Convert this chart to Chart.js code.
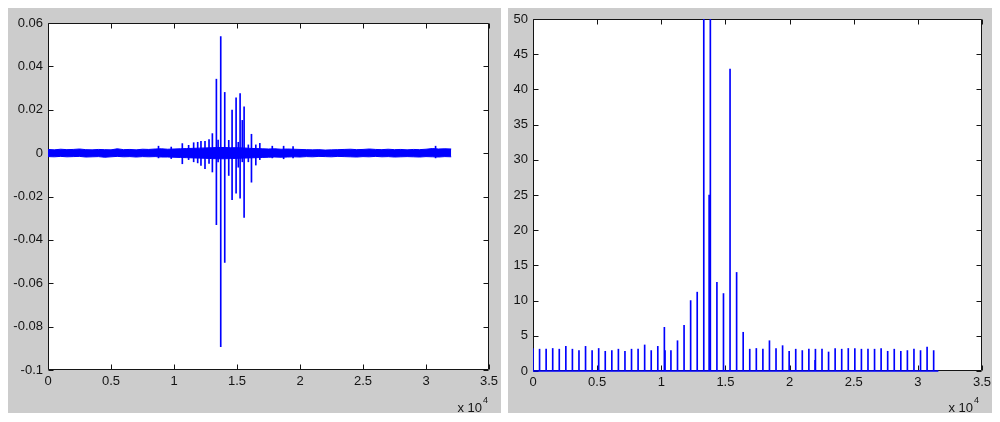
<!DOCTYPE html>
<html>
<head>
<meta charset="utf-8">
<title>Signal and spectrum</title>
<script src="https://cdn.jsdelivr.net/npm/chart.js@4.4.1/dist/chart.umd.min.js"></script>
<style>
  html, body { margin: 0; padding: 0; background: #fff; }
  body { width: 1000px; height: 422px; position: relative; overflow: hidden; }
  .panel { position: absolute; top: 8px; height: 405px; background: #cccccc; }
  #leftPanel  { left: 8px;   width: 493px; }
  #rightPanel { left: 508px; width: 484px; }
  canvas { display: block; }
</style>
</head>
<body>
<div class="panel" id="leftPanel"><canvas id="signalChart"></canvas></div>
<div class="panel" id="rightPanel"><canvas id="spectrumChart"></canvas></div>
<script>
// ===== data =====

// Left: noise band envelope, sampled every 500 samples
const envX = [0, 500, 1000, 1500, 2000, 2500, 3000, 3500, 4000, 4500,
  5000, 5500, 6000, 6500, 7000, 7500, 8000, 8500, 9000, 9500,
  10000, 10500, 11000, 11500, 12000, 12500, 13000, 13500, 14000, 14500,
  15000, 15500, 16000, 16500, 17000, 17500, 18000, 18500, 19000, 19500,
  20000, 20500, 21000, 21500, 22000, 22500, 23000, 23500, 24000, 24500,
  25000, 25500, 26000, 26500, 27000, 27500, 28000, 28500, 29000, 29500,
  30000, 30500, 31000, 31500, 32000];
const envUpper = [0.0017, 0.0015, 0.0018, 0.0016, 0.0017, 0.0019, 0.0016, 0.0015, 0.0017, 0.0016,
  0.0015, 0.0020, 0.0016, 0.0017, 0.0015, 0.0018, 0.0017, 0.0019, 0.0020, 0.0018,
  0.0019, 0.0020, 0.0021, 0.0022, 0.0023, 0.0024, 0.0025, 0.0026, 0.0026, 0.0025,
  0.0025, 0.0024, 0.0022, 0.0021, 0.0020, 0.0019, 0.0020, 0.0018, 0.0019, 0.0018,
  0.0017, 0.0016, 0.0015, 0.0016, 0.0014, 0.0015, 0.0016, 0.0017, 0.0018, 0.0016,
  0.0017, 0.0019, 0.0017, 0.0016, 0.0018, 0.0016, 0.0017, 0.0015, 0.0017, 0.0016,
  0.0018, 0.0021, 0.0019, 0.0020, 0.0019];
const envLower = [-0.0016, -0.0017, -0.0015, -0.0017, -0.0016, -0.0015, -0.0018, -0.0017, -0.0016, -0.0019,
  -0.0017, -0.0015, -0.0017, -0.0016, -0.0018, -0.0016, -0.0017, -0.0016, -0.0018, -0.0018,
  -0.0019, -0.0020, -0.0021, -0.0022, -0.0023, -0.0024, -0.0025, -0.0026, -0.0026, -0.0025,
  -0.0024, -0.0023, -0.0022, -0.0021, -0.0020, -0.0019, -0.0018, -0.0019, -0.0018, -0.0017,
  -0.0018, -0.0016, -0.0017, -0.0015, -0.0016, -0.0017, -0.0015, -0.0016, -0.0017, -0.0018,
  -0.0016, -0.0017, -0.0015, -0.0017, -0.0016, -0.0018, -0.0017, -0.0016, -0.0017, -0.0018,
  -0.0016, -0.0017, -0.0018, -0.0016, -0.0017];

// Left: individual spikes (peak up / peak down)
const burstX  = [8770, 9780, 10660, 11160, 11560, 11880, 12140, 12460, 12780, 13045,
  13364, 13500, 13709, 14027, 14345, 14610, 14928, 15100, 15246, 15420,
  15564, 15900, 16148, 16493, 16811, 17800, 18700, 19450, 30760];
const burstHi = [0.0032, 0.0028, 0.0044, 0.0036, 0.0048, 0.0050, 0.0054, 0.0054, 0.0063, 0.0090,
  0.0341, 0.0060, 0.0537, 0.0280, 0.0059, 0.0198, 0.0255, 0.0050, 0.0275, 0.0151,
  0.0213, 0.0038, 0.0087, 0.0038, 0.0045, 0.0032, 0.0032, 0.0030, 0.0032];
const burstLo = [-0.0022, -0.0025, -0.0049, -0.0030, -0.0040, -0.0045, -0.0057, -0.0072, -0.0048, -0.0087,
  -0.0330, -0.0040, -0.0892, -0.0504, -0.0103, -0.0215, -0.0185, -0.0065, -0.0208, -0.0040,
  -0.0296, -0.0040, -0.0134, -0.0055, -0.0030, -0.0022, -0.0026, -0.0022, -0.0022];

// Right: stems
const stemX = [0, 512, 1024, 1536, 2048, 2560, 3072, 3584, 4096, 4608,
  5120, 5632, 6144, 6656, 7168, 7680, 8192, 8704, 9216, 9728,
  10240, 10752, 11264, 11776, 12288, 12800, 13312, 13824, 14336, 14848,
  15360, 15872, 16384, 16896, 17408, 17920, 18432, 18944, 19456, 19968,
  20480, 20992, 21504, 22016, 22528, 23040, 23552, 24064, 24576, 25088,
  25600, 26112, 26624, 27136, 27648, 28160, 28672, 29184, 29696, 30208,
  30720, 31232];
const stemY = [3.2, 3.1, 3.1, 3.2, 3.1, 3.5, 3.1, 2.9, 3.5, 2.9,
  3.2, 2.8, 2.9, 3.1, 2.8, 3.1, 3.1, 3.7, 2.9, 3.5,
  6.2, 2.9, 4.3, 6.5, 10.0, 11.2, 60, 60, 12.6, 11.0,
  42.9, 14.0, 5.5, 3.1, 3.2, 3.1, 4.3, 3.2, 3.6, 2.8,
  3.1, 2.9, 3.1, 3.1, 3.1, 2.7, 3.2, 3.1, 3.2, 3.2,
  3.1, 3.1, 3.1, 3.2, 2.8, 3.1, 2.8, 2.9, 3.1, 2.9,
  3.4, 2.9];
const extraStemX = [10290, 13730, 21990];
const extraStemY = [2.9, 25.0, 1.5];
const baselineX  = [0, 31600];

// Tick labels
const xTickLabels        = ['0', '0.5', '1', '1.5', '2', '2.5', '3', '3.5'];
const signalTickLabels   = ['-0.1', '-0.08', '-0.06', '-0.04', '-0.02', '0', '0.02', '0.04', '0.06'];
const spectrumTickLabels = ['0', '5', '10', '15', '20', '25', '30', '35', '40', '45', '50'];

// ===== styling =====
const BLUE = '#0000ff';
const INK  = '#141414';
const FONT = "'Liberation Sans', Arial, Helvetica, sans-serif";

// ---- MATLAB-ish axes: white plot box, inward ticks, "x 10^4" exponent ----
const matlabAxes = {
  id: 'matlabAxes',
  beforeDraw(chart) {
    const { ctx, chartArea: a } = chart;
    ctx.save();
    ctx.fillStyle = '#ffffff';
    ctx.fillRect(a.left, a.top, a.right - a.left, a.bottom - a.top);
    ctx.restore();
  },
  beforeDatasetsDraw(chart) {
    const { ctx, chartArea: a, scales: { x, y } } = chart;
    const L = Math.round(a.left) + 0.5, R = Math.round(a.right) - 0.5;
    const T = Math.round(a.top) + 0.5,  B = Math.round(a.bottom) - 0.5;
    ctx.save();
    ctx.strokeStyle = INK;
    ctx.lineWidth = 1;
    ctx.beginPath();
    ctx.rect(L, T, R - L, B - T);
    for (const t of x.ticks) {
      const px = Math.round(x.getPixelForValue(t.value)) + 0.5;
      ctx.moveTo(px, B); ctx.lineTo(px, B - 5);
      ctx.moveTo(px, T); ctx.lineTo(px, T + 5);
    }
    for (const t of y.ticks) {
      const py = Math.round(y.getPixelForValue(t.value)) + 0.5;
      ctx.moveTo(L, py); ctx.lineTo(L + 5, py);
      ctx.moveTo(R, py); ctx.lineTo(R - 5, py);
    }
    ctx.stroke();
    ctx.restore();
  },
  afterDraw(chart, args, opts) {
    const { ctx, chartArea: a } = chart;
    const xr = a.right - opts.offset;
    ctx.save();
    ctx.fillStyle = INK;
    ctx.textBaseline = 'alphabetic';
    ctx.font = `13px ${FONT}`;
    ctx.textAlign = 'right';
    ctx.fillText('x 10', xr, chart.height - 1.5);
    ctx.font = `9px ${FONT}`;
    ctx.textAlign = 'left';
    ctx.fillText('4', xr + 1, chart.height - 10.5);
    ctx.restore();
  },
};

function fixed(prop, size) {
  return scale => {
    scale[prop] = size;
    scale.paddingTop = scale.paddingBottom = scale.paddingLeft = scale.paddingRight = 0;
  };
}

function xAxis(height) {
  return {
    type: 'linear',
    min: 0, max: 35000,
    offset: false,
    grid: { display: false, drawTicks: false },
    border: { display: false },
    ticks: {
      stepSize: 5000,
      padding: 4,
      maxRotation: 0,
      autoSkip: false,
      color: INK,
      font: { family: FONT, size: 13 },
      callback: (v, i) => xTickLabels[i] ?? String(v / 10000),
    },
    afterFit: fixed('height', height),
  };
}

function yAxis(min, max, step, labels, width) {
  return {
    min, max,
    grid: { display: false, drawTicks: false },
    border: { display: false },
    ticks: {
      stepSize: step,
      padding: 5,
      autoSkip: false,
      color: INK,
      font: { family: FONT, size: 13 },
      callback: (v, i) => labels[i] ?? String(v),
    },
    afterFit: fixed('width', width),
  };
}

const common = {
  responsive: true,
  maintainAspectRatio: false,
  animation: false,
  events: [],
};

// ---- Left: time signal ----
new Chart(document.getElementById('signalChart'), {
  type: 'bar',
  data: {
    datasets: [
      {
        type: 'line',
        data: envX.map((x, i) => ({ x, y: envUpper[i] })),
        borderColor: BLUE, borderWidth: 1, pointRadius: 0, tension: 0, fill: false,
      },
      {
        type: 'line',
        data: envX.map((x, i) => ({ x, y: envLower[i] })),
        borderColor: BLUE, backgroundColor: BLUE, borderWidth: 1, pointRadius: 0, tension: 0, fill: '-1',
      },
      {
        type: 'bar',
        data: burstX.map((x, i) => ({ x, y: [burstLo[i], burstHi[i]] })),
        backgroundColor: BLUE, borderWidth: 0, barThickness: 1, grouped: false,
      },
    ],
  },
  options: {
    ...common,
    layout: { padding: { left: 0, right: 12, top: 15, bottom: 0 } },
    scales: {
      x: xAxis(43),
      y: yAxis(-0.1, 0.06, 0.02, signalTickLabels, 40),
    },
    plugins: {
      legend: { display: false },
      tooltip: { enabled: false },
      matlabAxes: { offset: 7 },
    },
  },
  plugins: [matlabAxes],
});

// ---- Right: spectrum stems ----
new Chart(document.getElementById('spectrumChart'), {
  type: 'bar',
  data: {
    datasets: [
      {
        type: 'line',
        data: baselineX.map(x => ({ x, y: 0 })),
        borderColor: BLUE, borderWidth: 1.5, pointRadius: 0, fill: false, clip: 2,
      },
      {
        type: 'bar',
        data: stemX.map((x, i) => ({ x, y: stemY[i] })),
        backgroundColor: BLUE, borderWidth: 0, barThickness: 1, grouped: false,
      },
      {
        type: 'bar',
        data: extraStemX.map((x, i) => ({ x, y: extraStemY[i] })),
        backgroundColor: BLUE, borderWidth: 0, barThickness: 1, grouped: false,
      },
    ],
  },
  options: {
    ...common,
    layout: { padding: { left: 0, right: 10, top: 11, bottom: 0 } },
    scales: {
      x: xAxis(42),
      y: yAxis(0, 50, 5, spectrumTickLabels, 25),
    },
    plugins: {
      legend: { display: false },
      tooltip: { enabled: false },
      matlabAxes: { offset: 9 },
    },
  },
  plugins: [matlabAxes],
});
</script>
</body>
</html>
